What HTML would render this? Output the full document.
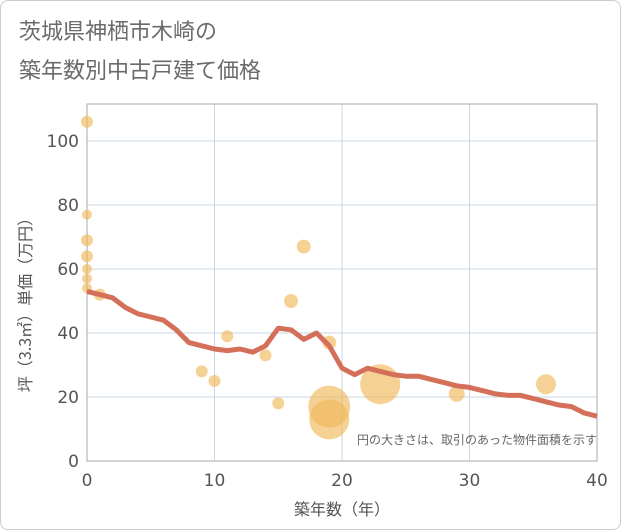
<!DOCTYPE html>
<html><head><meta charset="utf-8">
<style>
body{margin:0;background:#fff;font-family:"DejaVu Sans","Noto Sans CJK JP",sans-serif;}
#wrap{position:relative;width:619px;height:528px;border:1px solid #ccc;border-radius:8px;overflow:hidden;}
</style></head>
<body>
<div id="wrap">
<svg id="chart" width="621" height="530">
<text x="18" y="38" font-size="22" fill="#6b6b6b" font-family="Noto Sans CJK JP, sans-serif">茨城県神栖市木崎の</text>
<text x="18" y="77" font-size="22" fill="#6b6b6b" font-family="Noto Sans CJK JP, sans-serif">築年数別中古戸建て価格</text>
<g id="grid"></g>
<g id="marks"></g>
<text x="596" y="443" text-anchor="end" font-size="12" fill="#666" font-family="Noto Sans CJK JP, sans-serif">円の大きさは、取引のあった物件面積を示す</text>
<text x="341" y="514" text-anchor="middle" font-size="16" fill="#555" font-family="Noto Sans CJK JP, sans-serif">築年数（年）</text>
<text transform="translate(30,300) rotate(-90)" text-anchor="middle" font-size="16" fill="#555" font-family="Noto Sans CJK JP, sans-serif">坪（3.3㎡）単価（万円）</text>
</svg>
</div>
<script>
const xTicks=[0,10,20,30,40];
const yTicks=[0,20,40,60,80,100];
const lineX=[0,1,2,3,4,5,6,7,8,9,10,11,12,13,14,15,16,17,18,19,20,21,22,23,24,25,26,27,28,29,30,31,32,33,34,35,36,37,38,39,40];
const lineY=[53,52,51,48,46,45,44,41,37,36,35,34.5,35,34,36,41.5,41,38,40,36,29,27,29,28,27,26.5,26.5,25.5,24.5,23.5,23,22,21,20.5,20.5,19.5,18.5,17.5,17,15,14];
const bubX=[0,0,0,0,0,0,0,1,9,10,11,14,15,16,17,19,19,19,23,29,36];
const bubY=[106,77,69,64,60,57,54,52,28,25,39,33,18,50,67,37,17,13,24,21,24];
const bubR=[6,5,6,6,5,5,5,6,6,6,6,6,6,7,7,7,21,20,20,8,10];
const L=86,R=596,T=103,B=460;
const sx=v=>L+(v/40)*(R-L);
const sy=v=>B-v*3.2;
const NS='http://www.w3.org/2000/svg';
const grid=document.getElementById('grid'),marks=document.getElementById('marks');
function mk(tag,attrs,parent){const e=document.createElementNS(NS,tag);for(const k in attrs)e.setAttribute(k,attrs[k]);parent.appendChild(e);return e;}
yTicks.forEach(t=>{
 const l=mk('line',{x1:L,x2:R,y1:sy(t),y2:sy(t),stroke:'#c9d6e3','stroke-width':1},grid);
 
 
 const tx=mk('text',{x:L-8,y:sy(t)+6,'text-anchor':'end','font-size':17,fill:'#555'},grid);
 tx.textContent=t;
 
 
});
xTicks.forEach(t=>{
 const l=mk('line',{x1:sx(t),x2:sx(t),y1:T,y2:B,stroke:'#c9d6e3','stroke-width':1},grid);
 
 
 const tx=mk('text',{x:sx(t),y:B+25,'text-anchor':'middle','font-size':17,fill:'#555'},grid);
 tx.textContent=t;
 
 
});
const fr=mk('rect',{x:L,y:T,width:R-L,height:B-T,fill:'none',stroke:'#aaa','stroke-width':1},grid);


bubX.forEach((x,i)=>{
 const c=mk('circle',{cx:sx(x),cy:sy(bubY[i]),r:bubR[i],fill:'#f0b85a','fill-opacity':0.65},marks);
 
 
});
const p=mk('polyline',{points:lineX.map((x,i)=>sx(x)+','+sy(lineY[i])).join(' '),fill:'none',stroke:'#d4705a','stroke-width':5,'stroke-linejoin':'round'},marks);


</script>
</body></html>
